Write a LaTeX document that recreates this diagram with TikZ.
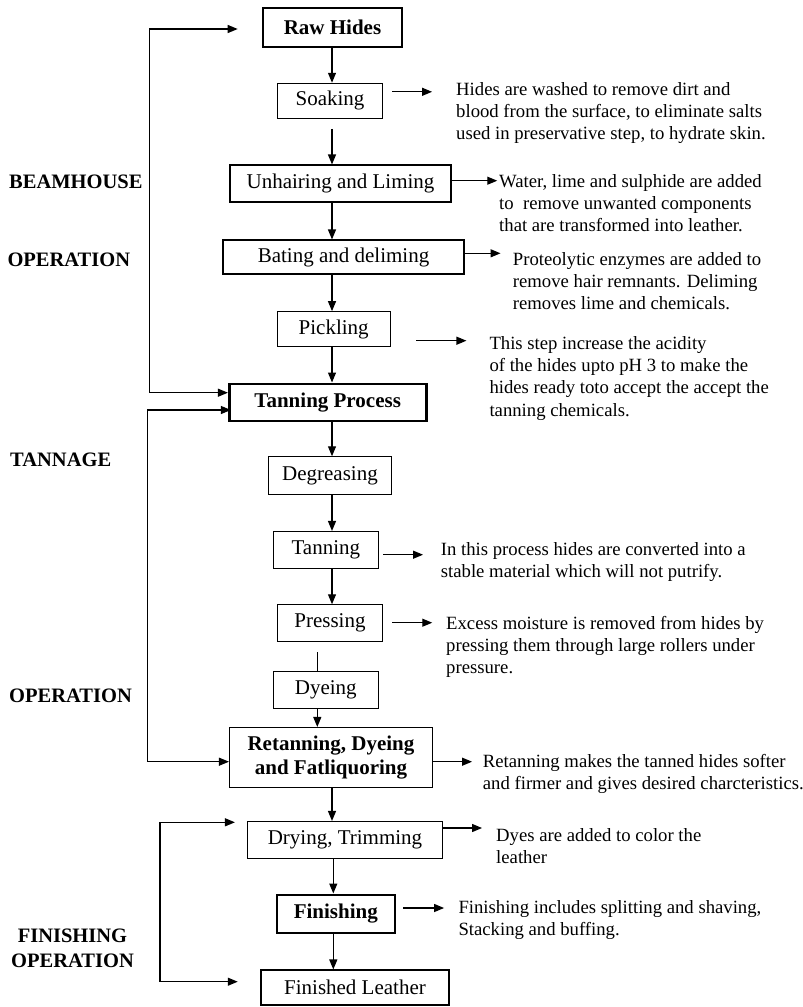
\documentclass[tikz,border=0pt]{standalone}
\usepackage{fontspec}
\setmainfont{Liberation Serif}
\usetikzlibrary{arrows.meta}
\begin{document}
\begin{tikzpicture}[x=1pt,y=-1pt,
 box/.style={draw, line width=1.1pt, inner sep=0pt, align=center, font=\fontsize{21}{24}\selectfont},
 tbox/.style={box, line width=2.6pt, font=\fontsize{21}{24}\selectfont\bfseries},
 desc/.style={anchor=north west, inner sep=0pt, align=left, font=\fontsize{18.7}{22.3}\selectfont},
 lbl/.style={inner sep=0pt, align=center, font=\fontsize{20.5}{25}\selectfont\bfseries},
 arr/.style={line width=1.2pt, -{Triangle[length=10pt,width=8pt]}},
 darr/.style={line width=1.2pt, {Triangle[length=10pt,width=8pt]}-{Triangle[length=10pt,width=8pt]}},
 ln/.style={line width=1.2pt}]
\fill[white] (0,0) rectangle (803,1007);
\useasboundingbox (0,0) rectangle (803,1007);
\coordinate (sp) at (332,0);
\coordinate (dx) at (317.3,0);

% boxes
\node[tbox, minimum width=139pt, minimum height=39pt] (raw) at (332.5,27.5) {Raw Hides};
\node[box, minimum width=105pt, minimum height=35pt] (soak) at (330,100.8) {Soaking};
\node[box, minimum width=221pt, minimum height=37pt] (unhair) at (340.5,183.5) {Unhairing and Liming};
\node[box, minimum width=241pt, minimum height=34pt] (bate) at (343.5,257) {Bating and deliming};
\node[box, minimum width=113pt, minimum height=35pt] (pickle) at (333.7,329.2) {Pickling};
\node[tbox, minimum width=197pt, minimum height=37pt] (tanproc) at (327.7,402.3) {Tanning Process};
\node[box, minimum width=123pt, minimum height=38pt] (degrease) at (330,475.8) {Degreasing};
\node[box, minimum width=105pt, minimum height=37pt] (tanning) at (325.8,550) {Tanning};
\node[box, minimum width=105pt, minimum height=37pt] (press) at (330,623.3) {Pressing};
\node[box, minimum width=105pt, minimum height=37pt] (dye) at (325.8,690) {Dyeing};
\node[box, minimum width=203pt, minimum height=60pt, font=\fontsize{21}{24.5}\selectfont\bfseries] (retan) at (331,757.5) {Retanning, Dyeing\\and Fatliquoring};
\node[box, minimum width=195pt, minimum height=37pt] (dry) at (345,840) {Drying, Trimming};
\node[tbox, minimum width=118pt, minimum height=38pt] (finish) at (335.8,913.8) {Finishing};
\node[box, minimum width=188pt, minimum height=35pt] (leather) at (355,987.5) {Finished Leather};

% descriptions
\node[desc] (soakd) at (456,82) {Hides are washed to remove dirt and\\blood from the surface, to eliminate salts\\used in preservative step, to hydrate skin.};
\node[desc] (unhaird) at (499,174) {Water, lime and sulphide are added\\to~ remove unwanted components\\that are transformed into leather.};
\node[desc] (bated) at (512.7,252) {Proteolytic enzymes are added to\\remove hair remnants. Deliming\\removes lime and chemicals.};
\node[desc] (pickled) at (489.3,336) {This step increase the acidity\\of the hides upto pH 3 to make the\\hides ready toto accept the accept the\\tanning chemicals.};
\node[desc] (tanningd) at (440.7,542) {In this process hides are converted into a\\stable material which will not putrify.};
\node[desc] (pressd) at (446,616) {Excess moisture is removed from hides by\\pressing them through large rollers under\\pressure.};
\node[desc] (retand) at (482.7,754) {Retanning makes the tanned hides softer\\and firmer and gives desired charcteristics.};
\node[desc] (dryd) at (496,828) {Dyes are added to color the\\leather};
\node[desc] (finishd) at (458.3,900) {Finishing includes splitting and shaving,\\Stacking and buffing.};

% side labels
\node[lbl, anchor=west] (l1) at (9,181.5) {BEAMHOUSE};
\node[lbl, anchor=west] (l2) at (7.3,260) {OPERATION};
\node[lbl, anchor=west] (l3) at (10,460) {TANNAGE};
\node[lbl, anchor=west] (l4) at (9,696) {OPERATION};
\node[lbl] (l5) at (72.5,948) {FINISHING\\OPERATION};

% main flow
\draw[arr] (raw.south -| sp) -- (soak.north -| sp);
\draw[arr] ([yshift=-10pt]soak.south -| sp) -- (unhair.north -| sp);
\draw[arr] (unhair.south -| sp) -- (bate.north -| sp);
\draw[arr] (bate.south -| sp) -- (pickle.north -| sp);
\draw[arr] (pickle.south -| sp) -- (tanproc.north -| sp);
\draw[arr] (tanproc.south -| sp) -- (degrease.north -| sp);
\draw[arr] (degrease.south -| sp) -- (tanning.north -| sp);
\draw[arr] (tanning.south -| sp) -- (press.north -| sp);
\draw[ln] ([yshift=-10pt]press.south -| dx) -- (dye.north -| dx);
\draw[arr] (dye.south -| dx) -- (retan.north -| dx);
\draw[arr] (retan.south -| sp) -- (dry.north -| sp);
\draw[arr] ([xshift=1.3pt]dry.south -| sp) -- ([xshift=1.3pt]finish.north -| sp);
\draw[arr] ([xshift=1.3pt]finish.south -| sp) -- ([xshift=1.3pt]leather.north -| sp);

% side arrows to descriptions
\draw[arr] ([xshift=9pt,yshift=9pt]soak.east) -- ++(40,0);
\draw[arr] ([yshift=2.8pt]unhair.east) -- ++(45.7,0);
\draw[arr] ([yshift=3.7pt]bate.east) -- ++(36,0);
\draw[arr] ([xshift=25.7pt,yshift=-11.5pt]pickle.east) -- ++(50,0);
\draw[arr] ([xshift=4.4pt,yshift=-4.7pt]tanning.east) -- ++(39.8,0);
\draw[arr] ([xshift=9.2pt,yshift=0.6pt]press.east) -- ++(40,0);
\draw[arr] ([yshift=-4.2pt]retan.east) -- ++(39,0);
\draw[arr] ([yshift=12pt]dry.east) -- ++(39,0);
\draw[arr] ([xshift=7pt,yshift=5.8pt]finish.east) -- ++(41,0);

% feedback loops
\draw[darr] ([xshift=-24pt,yshift=-1.5pt]raw.west) -- ++(-88.5,0) |- ([yshift=9.6pt]tanproc.west);
\draw[darr] ([xshift=3pt,yshift=-7.7pt]tanproc.west) -- ++(-83.5,0) |- ([yshift=-4.2pt]retan.west);
\draw[darr] ([xshift=-12pt,yshift=17.7pt]dry.west) -- ++(-75,0) |- ([xshift=-22.7pt,yshift=5.8pt]leather.west);
\end{tikzpicture}
\end{document}
